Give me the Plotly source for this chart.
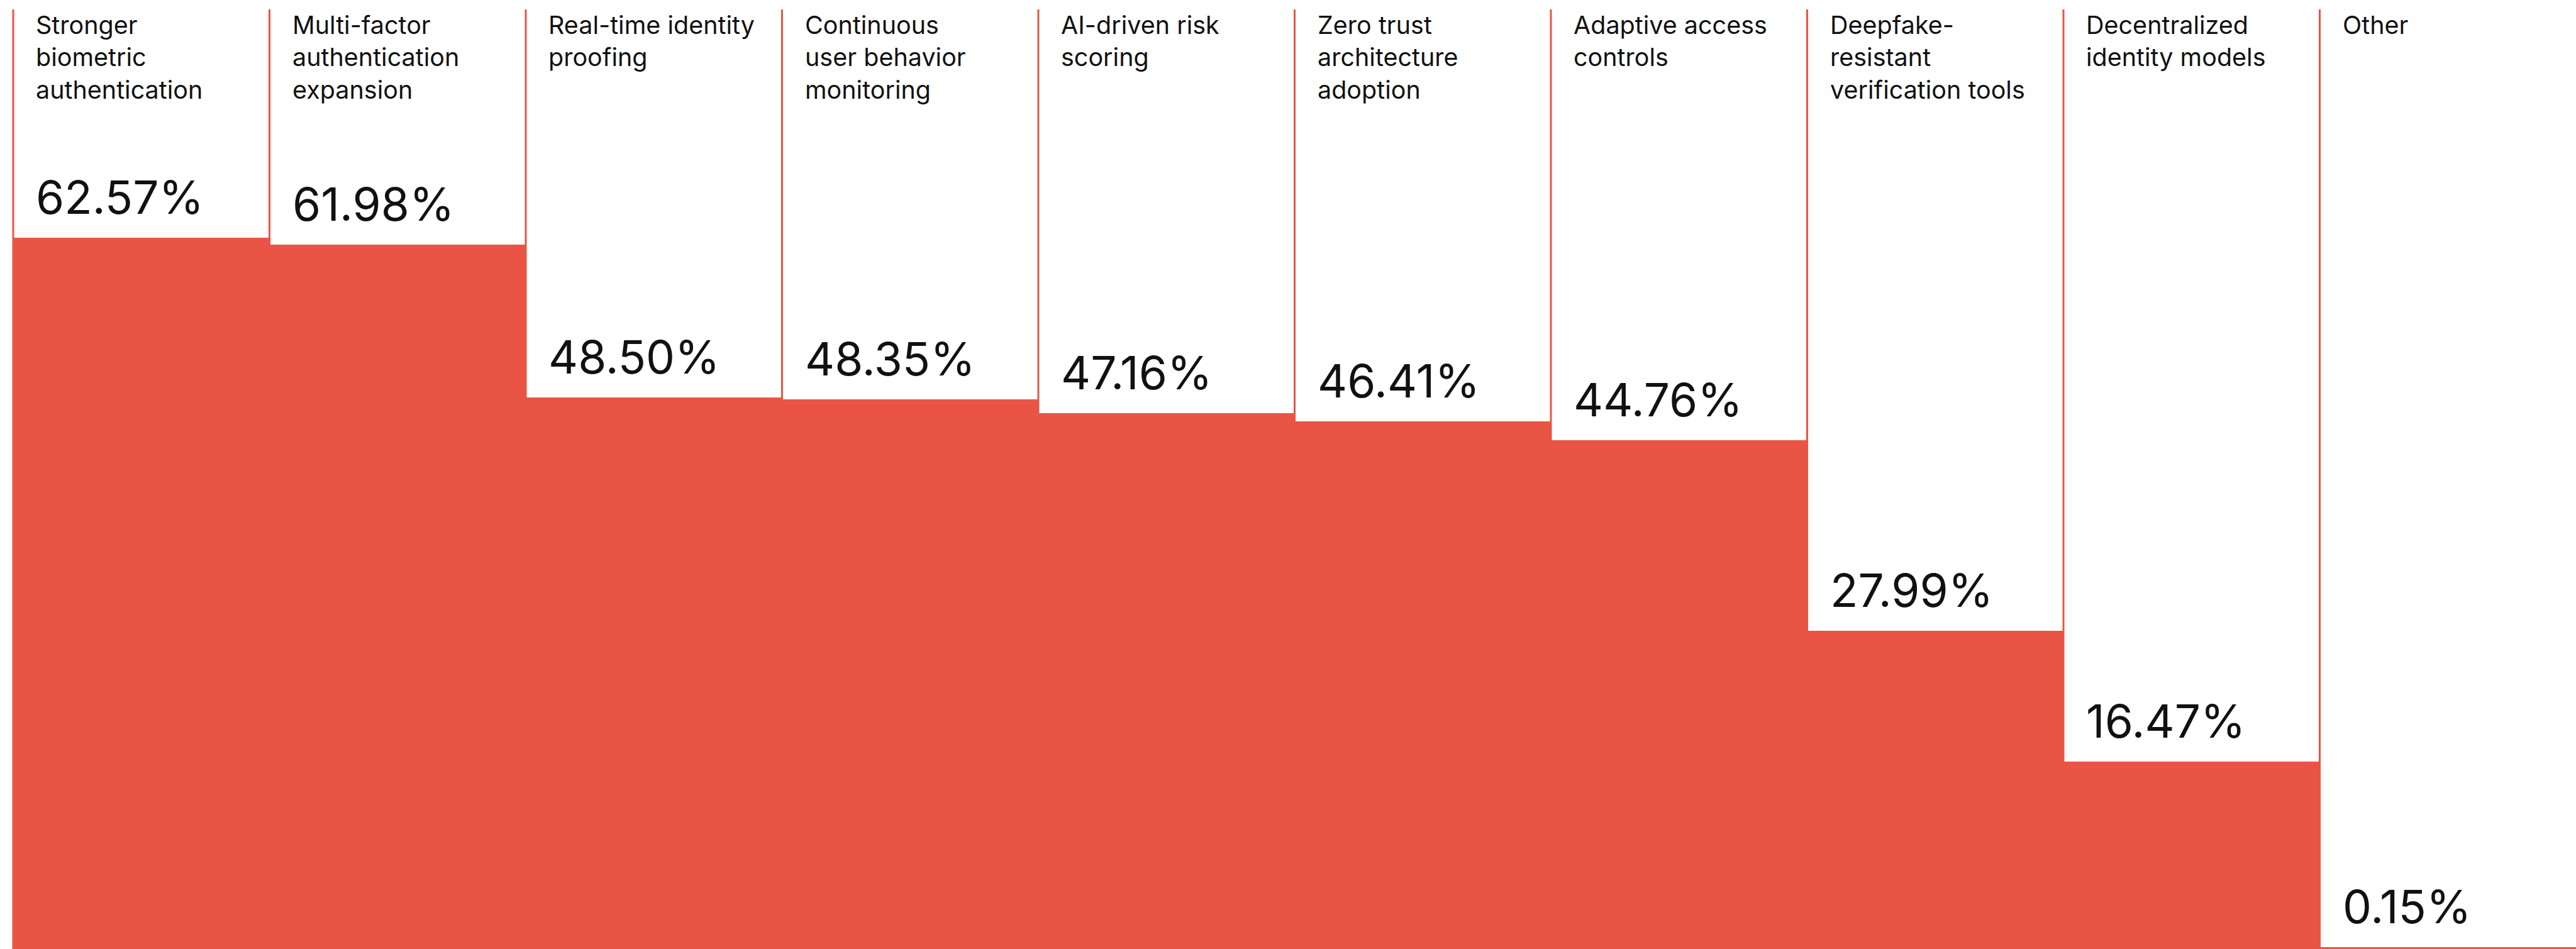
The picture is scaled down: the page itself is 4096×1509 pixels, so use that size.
import plotly.graph_objects as go

# Survey results: share of respondents per identity-security priority
categories = [
    "Stronger<br>biometric<br>authentication",
    "Multi-factor<br>authentication<br>expansion",
    "Real-time identity<br>proofing",
    "Continuous<br>user behavior<br>monitoring",
    "AI-driven risk<br>scoring",
    "Zero trust<br>architecture<br>adoption",
    "Adaptive access<br>controls",
    "Deepfake-<br>resistant<br>verification tools",
    "Decentralized<br>identity models",
    "Other",
]
values = [62.57, 61.98, 48.50, 48.35, 47.16, 46.41, 44.76, 27.99, 16.47, 0.15]
value_labels = [f"{v:.2f}%" for v in values]

# Page geometry (pixels)
W, H = 4096, 1509
LEFT_PAD = 21            # white gutter before the first column
COL_W = (W - LEFT_PAD) / len(values)
TOP_BAR_PX = 378         # top of the tallest bar, from the page top
RULE_TOP_PX = 15         # where the column rules start
TEXT_INSET = 34 / COL_W  # text inset from a column's left rule, in axis units

RED = "#EA5444"
INK = "#111111"
FONT = "Inter"

n = len(values)
x_centers = [i + 0.5 for i in range(n)]
y_max = max(values) * H / (H - TOP_BAR_PX)

fig = go.Figure()

fig.add_trace(go.Bar(
    x=x_centers,
    y=values,
    width=1.0,
    marker=dict(color=RED, line=dict(width=0)),
    hoverinfo="skip",
    showlegend=False,
))

shapes = []
annotations = []
for i in range(n):
    # thin rule on the left edge of every column
    shapes.append(dict(
        type="line", xref="x", yref="paper",
        x0=i, x1=i, y0=0, y1=1 - RULE_TOP_PX / H,
        line=dict(color=RED, width=3), layer="below",
    ))
    # category title at the top of the column
    annotations.append(dict(
        xref="x", yref="paper",
        x=i + TEXT_INSET, y=1 - 14 / H,
        xanchor="left", yanchor="top", align="left",
        text=categories[i], showarrow=False,
        font=dict(family=FONT, size=39.5, color=INK),
    ))
    # value label sitting just above the bar
    annotations.append(dict(
        xref="x", yref="y",
        x=i + TEXT_INSET, y=values[i],
        xanchor="left", yanchor="bottom",
        text=value_labels[i], showarrow=False, yshift=18,
        font=dict(family=FONT, size=73, color=INK),
    ))

fig.update_layout(
    width=W, height=H,
    margin=dict(l=0, r=0, t=0, b=0),
    paper_bgcolor="white", plot_bgcolor="white",
    bargap=0,
    xaxis=dict(range=[-LEFT_PAD / COL_W, n], visible=False, fixedrange=True),
    yaxis=dict(range=[0, y_max], visible=False, fixedrange=True),
    shapes=shapes,
    annotations=annotations,
    showlegend=False,
)

fig.write_html("out.html", config={"displayModeBar": False})
